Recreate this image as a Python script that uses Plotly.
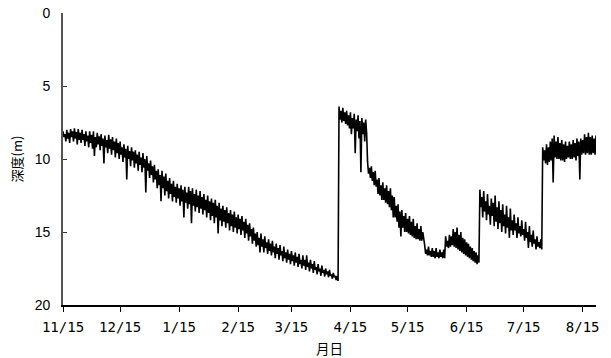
import pandas as pd
import plotly.graph_objects as go

# Logger depth record (m below surface), one shallow and one deep reading per day from 11/15
start_date = "2014-11-15"

depth_shallow = [
    # 11/15 - 4/8 : steady drawdown
    8.1, 8.3, 8.0, 8.2, 7.95, 8.1, 7.9, 8.15, 7.95, 8.2,
    8.0, 8.3, 8.1, 8.4, 8.1, 8.35, 8.1, 8.5, 8.2, 8.45,
    8.3, 8.6, 8.4, 8.7, 8.35, 8.65, 8.5, 8.8, 8.6, 8.9,
    8.8, 9.2, 9.0, 9.3, 9.1, 9.45, 9.2, 9.5, 9.4, 9.7,
    9.5, 9.9, 9.6, 10.0, 9.8, 10.3, 10.1, 10.5, 10.4, 10.8,
    10.7, 11.1, 10.8, 11.2, 11.0, 11.5, 11.3, 11.7, 11.5, 11.9,
    11.7, 12.0, 11.8, 12.1, 11.9, 12.3, 11.9, 12.2, 12.0, 12.4,
    12.1, 12.5, 12.2, 12.6, 12.4, 12.8, 12.5, 12.9, 12.7, 13.0,
    12.8, 13.2, 13.0, 13.4, 13.2, 13.5, 13.3, 13.7, 13.5, 13.8,
    13.6, 14.0, 13.8, 14.1, 13.9, 14.3, 14.1, 14.5, 14.4, 14.8,
    14.7, 15.1, 15.0, 15.4, 15.1, 15.5, 15.3, 15.7, 15.5, 15.8,
    15.6, 16.0, 15.8, 16.1, 15.9, 16.3, 16.0, 16.4, 16.2, 16.5,
    16.3, 16.6, 16.4, 16.7, 16.5, 16.9, 16.6, 16.9, 16.6, 17.1,
    16.9, 17.2, 17.0, 17.4, 17.2, 17.5, 17.3, 17.6, 17.5, 17.7,
    17.6, 17.9, 17.8, 18.0, 18.0,
    # 4/9 - 6/21 : recovery, second drawdown
    6.4, 6.7, 6.5, 6.8, 6.7,
    7.0, 6.8, 7.2, 6.9, 7.3, 7.0, 7.4, 7.2, 7.5, 7.3,
    10.2, 10.6, 10.5, 10.9, 10.8, 11.4, 11.3, 11.8, 11.6, 12.0,
    11.8, 12.2, 12.0, 12.5, 12.6, 13.2, 13.1, 13.6, 13.5, 13.9,
    13.7, 14.1, 13.9, 14.3, 14.1, 14.6, 14.4, 14.8, 14.6, 15.0,
    15.9, 16.2, 16.0, 16.3, 16.1, 16.3, 16.1, 16.4, 16.2, 16.4,
    16.2, 15.3, 15.6, 15.2, 15.3, 14.8, 15.0, 14.7, 15.2, 15.0,
    15.4, 15.5, 15.7, 15.8, 16.0, 16.1, 16.3, 16.4, 16.6,
    # 6/22 - 7/24
    12.1, 12.6, 12.2, 12.9, 12.4, 13.2, 12.7, 13.0, 12.5, 13.3, 12.9,
    13.5, 13.1, 13.8, 13.2, 14.0, 13.4, 14.2, 13.8, 14.4, 14.0,
    14.6, 14.2, 14.8, 14.3, 15.0, 14.6, 15.2, 14.9, 15.5, 15.3, 15.7, 15.5,
    # 7/25 - 8/21
    9.2, 9.4, 9.0, 9.2, 8.8, 8.6, 8.4, 8.8, 8.5, 8.9,
    8.7, 9.0, 8.8, 9.1, 8.8, 9.0, 8.7, 8.9, 8.6, 8.8,
    8.6, 8.7, 8.3, 8.5, 8.2, 8.5, 8.4, 8.6, 8.4,
]

depth_deep = [
    # 11/15 - 4/8
    8.5, 8.8, 8.6, 8.9, 8.5, 8.8, 8.6, 9.0, 8.7, 8.9,
    8.7, 9.1, 8.8, 9.2, 8.9, 9.3, 9.8, 9.2, 9.0, 9.4,
    9.1, 10.3, 9.2, 9.6, 9.3, 9.7, 9.4, 9.9, 9.6, 10.0,
    9.7, 10.2, 9.9, 11.4, 10.0, 10.5, 10.1, 10.6, 10.3, 10.8,
    10.4, 10.9, 10.6, 12.3, 10.8, 11.3, 11.1, 11.6, 11.4, 12.0,
    11.8, 12.9, 12.0, 12.5, 12.2, 12.7, 12.4, 12.9, 12.6, 13.0,
    12.7, 13.2, 12.9, 14.0, 13.0, 13.4, 13.1, 14.4, 13.2, 13.6,
    13.3, 13.7, 13.4, 13.8, 13.5, 14.0, 13.7, 14.2, 13.9, 14.4,
    14.0, 15.1, 14.2, 14.6, 14.3, 14.7, 14.4, 14.9, 14.6, 15.0,
    14.7, 15.1, 14.8, 15.2, 14.9, 15.4, 15.1, 15.6, 15.3, 15.8,
    15.6, 16.0, 15.9, 16.4, 16.0, 16.4, 16.1, 16.5, 16.3, 16.6,
    16.4, 16.8, 16.5, 16.9, 16.6, 17.0, 16.8, 17.1, 16.9, 17.2,
    17.0, 17.3, 17.1, 17.4, 17.2, 17.5, 17.3, 17.6, 17.4, 17.7,
    17.5, 17.8, 17.6, 17.9, 17.7, 18.0, 17.8, 18.05, 17.9, 18.1,
    18.0, 18.2, 18.1, 18.3, 18.35,
    # 4/9 - 6/21
    7.3, 7.5, 7.4, 7.6, 7.7,
    7.9, 8.3, 7.9, 9.6, 8.1, 8.6, 10.9, 8.3, 8.8, 8.2,
    11.0, 11.3, 11.5, 11.8, 11.9, 12.4, 12.5, 12.8, 12.8, 13.0,
    13.1, 13.3, 13.5, 14.0, 14.0, 14.3, 14.7, 15.3, 14.7, 15.0,
    15.0, 15.1, 15.2, 15.3, 15.4, 15.5, 15.5, 15.6, 15.6, 15.7,
    16.5, 16.6, 16.6, 16.7, 16.7, 16.8, 16.7, 16.8, 16.7, 16.8,
    16.8, 16.0, 16.1, 16.0, 15.9, 16.0, 16.1, 16.2, 16.3, 16.4,
    16.5, 16.6, 16.7, 16.8, 16.9, 17.0, 17.1, 17.2, 17.1,
    # 6/22 - 7/24
    13.3, 14.0, 13.6, 14.2, 13.8, 14.5, 13.9, 14.6, 14.3, 14.8, 14.4,
    15.0, 14.6, 15.1, 14.7, 15.4, 14.9, 15.2, 14.9, 15.4, 15.1,
    15.3, 15.2, 15.6, 15.4, 16.1, 15.7, 16.0, 15.8, 16.2, 16.0, 16.1, 16.2,
    # 7/25 - 8/21
    10.1, 10.3, 10.4, 10.2, 10.1, 11.6, 9.9, 10.0, 10.0, 10.1,
    10.1, 10.2, 10.0, 9.9, 10.0, 10.0, 9.9, 10.1, 9.8, 11.4,
    9.7, 9.6, 9.7, 9.6, 9.7, 9.7, 9.6, 9.7, 9.6,
]
assert len(depth_shallow) == len(depth_deep)

tick_dates = ["2014-11-15", "2014-12-15", "2015-01-15", "2015-02-15", "2015-03-15",
              "2015-04-15", "2015-05-15", "2015-06-15", "2015-07-15", "2015-08-15"]
tick_labels = ["11/15", "12/15", "1/15", "2/15", "3/15",
               "4/15", "5/15", "6/15", "7/15", "8/15"]
depth_ticks = [0, 5, 10, 15, 20]

# Shallow reading at midnight, deep reading at noon of each day
days = pd.date_range(start_date, periods=len(depth_shallow), freq="D")
times, depths = [], []
for day, s, d in zip(days, depth_shallow, depth_deep):
    times += [day, day + pd.Timedelta(hours=12)]
    depths += [s, d]

fig = go.Figure(
    go.Scatter(x=times, y=depths, mode="lines",
               line=dict(color="black", width=1.6), hoverinfo="skip")
)

fig.update_layout(
    width=611, height=358,
    margin=dict(l=63, r=15, t=13, b=53),
    paper_bgcolor="white", plot_bgcolor="white",
    showlegend=False,
    font=dict(family="Noto Sans CJK JP, Liberation Sans, sans-serif", color="black", size=13),
)

fig.update_xaxes(
    range=["2014-11-15", "2015-08-22"],
    tickvals=tick_dates, ticktext=tick_labels,
    showgrid=False, zeroline=False, automargin=False,
    showline=True, linecolor="black", linewidth=1.5,
    ticks="outside", ticklen=5, tickwidth=1.2, tickcolor="black",
    tickfont=dict(family="DejaVu Sans Mono, monospace", size=14),
    ticklabelstandoff=3,
    title=dict(text="月日", font=dict(size=13.5), standoff=14),
)

fig.update_yaxes(
    range=[20, 0],
    tickvals=depth_ticks,
    showgrid=False, zeroline=False, automargin=False,
    showline=True, linecolor="#555555", linewidth=1.8,
    ticks="inside", ticklen=4, tickwidth=1.2, tickcolor="#333333",
    tickfont=dict(family="Liberation Sans, Arial, sans-serif", size=14),
    ticklabelstandoff=8,
    title=dict(text="深度(m)", font=dict(size=13), standoff=9),
)

fig.write_html("out.html")
